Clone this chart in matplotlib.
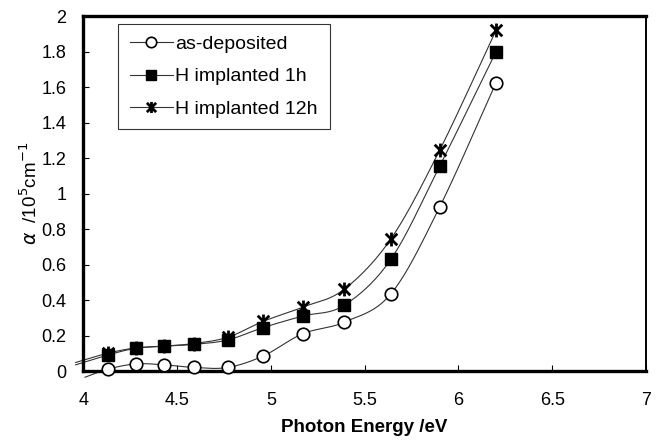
import numpy as np
import matplotlib
matplotlib.use('Agg')
import matplotlib.pyplot as plt
from matplotlib.path import Path
from matplotlib.ticker import FuncFormatter

# wavelengths 300..200 nm -> photon energy
energy = [4.13, 4.28, 4.43, 4.59, 4.77, 4.96, 5.17, 5.39, 5.64, 5.90, 6.20]
as_deposited = [0.01, 0.04, 0.035, 0.02, 0.02, 0.085, 0.21, 0.275, 0.435, 0.925, 1.625]
implanted_1h = [0.09, 0.128, 0.14, 0.15, 0.175, 0.245, 0.31, 0.37, 0.63, 1.155, 1.80]
implanted_12h = [0.10, 0.13, 0.14, 0.155, 0.19, 0.28, 0.36, 0.46, 0.745, 1.245, 1.92]

# where the curves start, left of the first marker
start_energy = [4.01, 3.96, 3.96]
start_value = [-0.035, 0.035, 0.048]

labels = ['as-deposited', 'H implanted 1h', 'H implanted 12h']

plt.rcParams['font.family'] = ['Liberation Sans', 'DejaVu Sans']


def smooth(xs, ys, n=20):
    # catmull-rom, like the spreadsheet "smoothed line"
    x = np.asarray(xs, float)
    y = np.asarray(ys, float)
    px = np.concatenate([[2 * x[0] - x[1]], x, [2 * x[-1] - x[-2]]])
    py = np.concatenate([[2 * y[0] - y[1]], y, [2 * y[-1] - y[-2]]])
    out_x, out_y = [], []
    t = np.linspace(0, 1, n)
    for i in range(1, len(px) - 2):
        for p, out in ((px, out_x), (py, out_y)):
            p0, p1, p2, p3 = p[i - 1], p[i], p[i + 1], p[i + 2]
            out.extend(0.5 * ((2 * p1) + (-p0 + p2) * t + (2 * p0 - 5 * p1 + 4 * p2 - p3) * t ** 2
                              + (-p0 + 3 * p1 - 3 * p2 + p3) * t ** 3))
    return out_x, out_y


star = Path([(-1, -1), (1, 1), (-1, 1), (1, -1), (0, -1.2), (0, 1.2)],
            [Path.MOVETO, Path.LINETO, Path.MOVETO, Path.LINETO, Path.MOVETO, Path.LINETO])

fig = plt.figure(figsize=(6.6, 4.43), dpi=100)
ax = fig.add_axes([0.126, 0.1625, 0.853, 0.801])

series = [as_deposited, implanted_1h, implanted_12h]
styles = [dict(marker='o', ms=9, mfc='white', mec='black', mew=1.2),
          dict(marker='s', ms=8, mfc='black', mec='black', mew=1.0),
          dict(marker=star, ms=10, mfc='none', mec='black', mew=2.0)]
leg_styles = [dict(marker='o', ms=7.5, mfc='white', mec='black', mew=1.2),
              dict(marker='s', ms=7, mfc='black', mec='black', mew=1.0),
              dict(marker=star, ms=8, mfc='none', mec='black', mew=2.0)]

for i in range(3):
    sx, sy = smooth([start_energy[i]] + energy, [start_value[i]] + series[i])
    ax.plot(sx, sy, color='#333333', lw=0.8, clip_on=False, zorder=2)
    ax.plot(energy, series[i], linestyle='none', zorder=3, clip_on=False, **styles[i])
    ax.plot([], [], color='#333333', lw=0.8, label=labels[i], **leg_styles[i])

ax.set_xlim(4, 7)
ax.set_ylim(0, 2)
ax.set_xticks(np.arange(4, 7.01, 0.5))
ax.set_yticks(np.arange(0, 2.01, 0.2))
fmt = FuncFormatter(lambda v, p: ('%g' % round(v, 2)))
ax.xaxis.set_major_formatter(fmt)
ax.yaxis.set_major_formatter(fmt)
ax.tick_params(direction='in', length=4, width=0.8, labelsize=13, top=False, right=False)
ax.tick_params(axis='x', pad=15)
ax.tick_params(axis='y', pad=12)

for side in ['left', 'top', 'bottom']:
    ax.spines[side].set_linewidth(2.4)
ax.spines['right'].set_linewidth(1.4)

ax.set_xlabel('Photon Energy /eV', fontsize=13.5, fontweight='bold', labelpad=7)
ax.set_ylabel(r'$\alpha$  /10$^5$cm$^{-1}$', fontsize=13.5, labelpad=0)

leg = ax.legend(loc='upper left', bbox_to_anchor=(0.062, 0.978), fontsize=14,
                frameon=True, fancybox=False, handlelength=2.2, handletextpad=0.15,
                borderpad=0.6, labelspacing=0.75, borderaxespad=0)
leg.get_frame().set_edgecolor('black')
leg.get_frame().set_linewidth(0.8)

fig.savefig('out.png', dpi=100)
